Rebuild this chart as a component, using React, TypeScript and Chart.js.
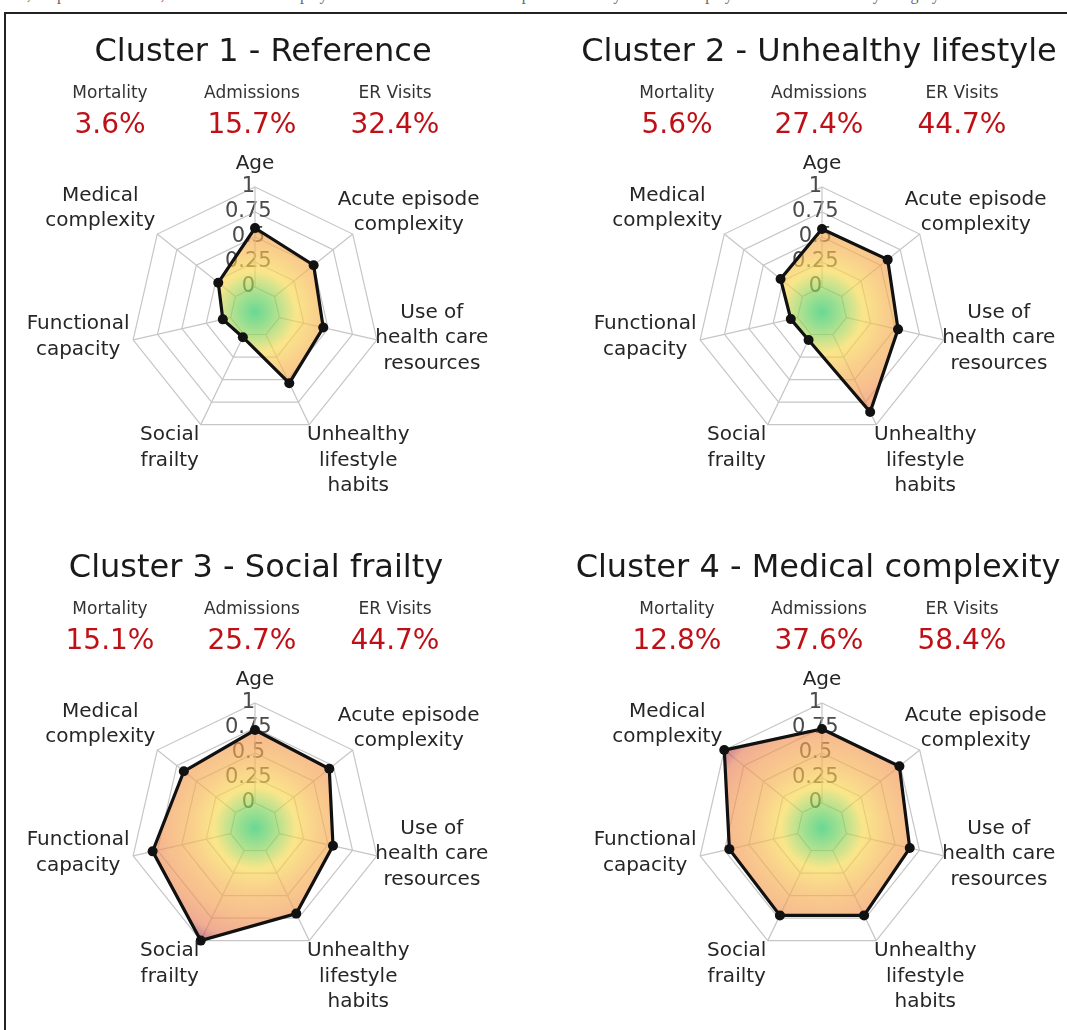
import React, { useEffect, useRef } from 'react';
import { Chart, registerables } from 'chart.js';

Chart.register(...registerables);

// ---------- data ----------
const AXIS_LABELS: string[][] = [
  ['Age'],
  ['Acute episode', 'complexity'],
  ['Use of', 'health care', 'resources'],
  ['Unhealthy', 'lifestyle', 'habits'],
  ['Social', 'frailty'],
  ['Functional', 'capacity'],
  ['Medical', 'complexity'],
];

const CLUSTER_TITLES = [
  'Cluster 1 - Reference',
  'Cluster 2 - Unhealthy lifestyle',
  'Cluster 3 - Social frailty',
  'Cluster 4 - Medical complexity',
];

const OUTCOME_NAMES = ['Mortality', 'Admissions', 'ER Visits'];
const MORTALITY = ['3.6%', '5.6%', '15.1%', '12.8%'];
const ADMISSIONS = ['15.7%', '27.4%', '25.7%', '37.6%'];
const ER_VISITS = ['32.4%', '44.7%', '44.7%', '58.4%'];

const CLUSTER1 = [0.59, 0.5, 0.45, 0.54, 0.03, 0.08, 0.22];
const CLUSTER2 = [0.58, 0.59, 0.53, 0.86, 0.06, 0.07, 0.28];
const CLUSTER3 = [0.73, 0.7, 0.55, 0.7, 1.0, 0.8, 0.66];
const CLUSTER4 = [0.74, 0.74, 0.65, 0.72, 0.72, 0.7, 1.0];
const CLUSTER_VALUES = [CLUSTER1, CLUSTER2, CLUSTER3, CLUSTER4];

const R_MIN = -0.25;
const R_MAX = 1;
const R_STEP = 0.25;

// ---------- layout / style ----------
const FONT = '"DejaVu Sans", Verdana, sans-serif';
const PANEL_W = 533;
const PANEL_H = 516;
const PANEL_ORIGINS = [
  [0, 0],
  [567, 0],
  [0, 516],
  [567, 516],
];
const TITLE_X = [263, 252, 256, 251];
const OUTCOME_X = [110, 252, 395];
const RADAR_CENTER = [255, 312];
const RADAR_RADIUS = 125;
const LABEL_OFFSETS = [
  [0, -23],
  [56, -22],
  [55, -2],
  [49, 36],
  [-31, 23],
  [-55, -3],
  [-57, -26],
];
const LABEL_LINE_H = 25.5;
const GRID_COLOR = '#c6c6c6';

const spokesPlugin = {
  id: 'spokesFromZero',
  beforeDatasetsDraw(chart: any) {
    const s = chart.scales.r;
    const ctx = chart.ctx;
    ctx.save();
    ctx.strokeStyle = GRID_COLOR;
    ctx.lineWidth = 1.2;
    const n = chart.data.labels.length;
    for (let i = 0; i < n; i++) {
      const a = s.getPointPositionForValue(i, 0);
      const b = s.getPointPositionForValue(i, R_MAX);
      ctx.beginPath();
      ctx.moveTo(a.x, a.y);
      ctx.lineTo(b.x, b.y);
      ctx.stroke();
    }
    ctx.restore();
  },
};

const axisLabelPlugin = {
  id: 'axisLabels',
  afterDraw(chart: any) {
    const s = chart.scales.r;
    const ctx = chart.ctx;
    ctx.save();
    ctx.font = `20px ${FONT}`;
    ctx.fillStyle = '#262626';
    ctx.textAlign = 'center';
    ctx.textBaseline = 'middle';
    chart.data.labels.forEach((lab: any, i: number) => {
      const p = s.getPointPosition(i, s.drawingArea);
      const lines: string[] = Array.isArray(lab) ? lab : [lab];
      const cx = p.x + LABEL_OFFSETS[i][0];
      const cy = p.y + LABEL_OFFSETS[i][1];
      lines.forEach((t, k) => {
        ctx.fillText(t, cx, cy + (k - (lines.length - 1) / 2) * LABEL_LINE_H);
      });
    });
    ctx.restore();
  },
};

function gradientFill(c: any) {
  const chart = c.chart;
  const s = chart.scales && chart.scales.r;
  if (!s || !isFinite(s.xCenter)) return 'rgba(245,170,100,0.65)';
  const g = chart.ctx.createRadialGradient(s.xCenter, s.yCenter, 0, s.xCenter, s.yCenter, s.drawingArea);
  g.addColorStop(0, 'rgba(25,195,90,0.65)');
  g.addColorStop(0.15, 'rgba(115,208,85,0.65)');
  g.addColorStop(0.33, 'rgba(248,216,75,0.65)');
  g.addColorStop(0.5, 'rgba(246,182,78,0.65)');
  g.addColorStop(0.7, 'rgba(243,156,82,0.65)');
  g.addColorStop(0.88, 'rgba(232,128,90,0.65)');
  g.addColorStop(1, 'rgba(155,55,90,0.65)');
  return g;
}

function RadarPanel({ idx }: { idx: number }) {
  const ref = useRef<HTMLCanvasElement | null>(null);
  useEffect(() => {
    if (!ref.current) return;
    const chart = new Chart(ref.current, {
      type: 'radar',
      data: {
        labels: AXIS_LABELS,
        datasets: [
          {
            data: CLUSTER_VALUES[idx],
            borderColor: '#111',
            borderWidth: 3.2,
            pointRadius: 5,
            pointBackgroundColor: '#111',
            pointBorderWidth: 0,
            fill: 'start',
            backgroundColor: gradientFill,
          },
        ],
      },
      options: {
        animation: false,
        responsive: false,
        maintainAspectRatio: false,
        plugins: { legend: { display: false }, tooltip: { enabled: false } },
        scales: {
          r: {
            min: R_MIN,
            max: R_MAX,
            ticks: {
              stepSize: R_STEP,
              color: '#4a4a4a',
              showLabelBackdrop: false,
              font: { family: FONT, size: 21 },
              callback: (v: any) => (v < 0 ? '' : String(v) + '\u00a0\u00a0'),
            },
            grid: {
              color: (c: any) => (c.tick && c.tick.value < 0 ? 'rgba(0,0,0,0)' : GRID_COLOR),
              lineWidth: 1.2,
            },
            angleLines: { display: false },
            pointLabels: { display: false },
            afterFit: (scale: any) => {
              scale.xCenter = RADAR_CENTER[0];
              scale.yCenter = RADAR_CENTER[1];
              scale.drawingArea = RADAR_RADIUS;
            },
          } as any,
        },
      },
      plugins: [spokesPlugin, axisLabelPlugin],
    } as any);
    return () => chart.destroy();
  }, [idx]);

  const [ox, oy] = PANEL_ORIGINS[idx];
  const outcomes = [MORTALITY[idx], ADMISSIONS[idx], ER_VISITS[idx]];
  const center = (x: number, y: number): React.CSSProperties => ({
    position: 'absolute',
    left: x,
    top: y,
    transform: 'translate(-50%, -50%)',
    whiteSpace: 'nowrap',
    fontFamily: FONT,
    lineHeight: 1,
  });
  return (
    <div style={{ position: 'absolute', left: ox, top: oy, width: PANEL_W, height: PANEL_H }}>
      <canvas
        ref={ref}
        width={PANEL_W}
        height={PANEL_H}
        style={{ position: 'absolute', left: 0, top: 0, width: PANEL_W, height: PANEL_H }}
      />
      <div style={{ ...center(TITLE_X[idx], 50), fontSize: 32, color: '#1a1a1a' }}>{CLUSTER_TITLES[idx]}</div>
      {OUTCOME_NAMES.map((n, k) => (
        <div key={n} style={{ ...center(OUTCOME_X[k], 92), fontSize: 17, color: '#333' }}>
          {n}
        </div>
      ))}
      {outcomes.map((v, k) => (
        <div key={k} style={{ ...center(OUTCOME_X[k], 124), fontSize: 28, color: 'rgb(190,16,22)' }}>
          {v}
        </div>
      ))}
    </div>
  );
}

export default function App() {
  return (
    <div
      style={{
        position: 'fixed',
        left: 0,
        top: 0,
        width: 1067,
        height: 1030,
        overflow: 'hidden',
        background: '#fff',
      }}
    >
      <div
        style={{
          position: 'absolute',
          left: 0,
          top: -14,
          fontFamily: '"Liberation Serif", serif',
          fontSize: 16,
          color: '#666',
          whiteSpace: 'nowrap',
        }}
      >
        ated, hospital admissions, and ER visits are displayed in red for each cluster. The profile of every cluster is displayed in the radar chart by category.
      </div>
      <div
        style={{
          position: 'absolute',
          left: 4,
          top: 12,
          width: 2000,
          height: 2000,
          borderLeft: '2px solid #222',
          borderTop: '2px solid #222',
        }}
      />
      {[0, 1, 2, 3].map((i) => (
        <RadarPanel key={i} idx={i} />
      ))}
    </div>
  );
}
